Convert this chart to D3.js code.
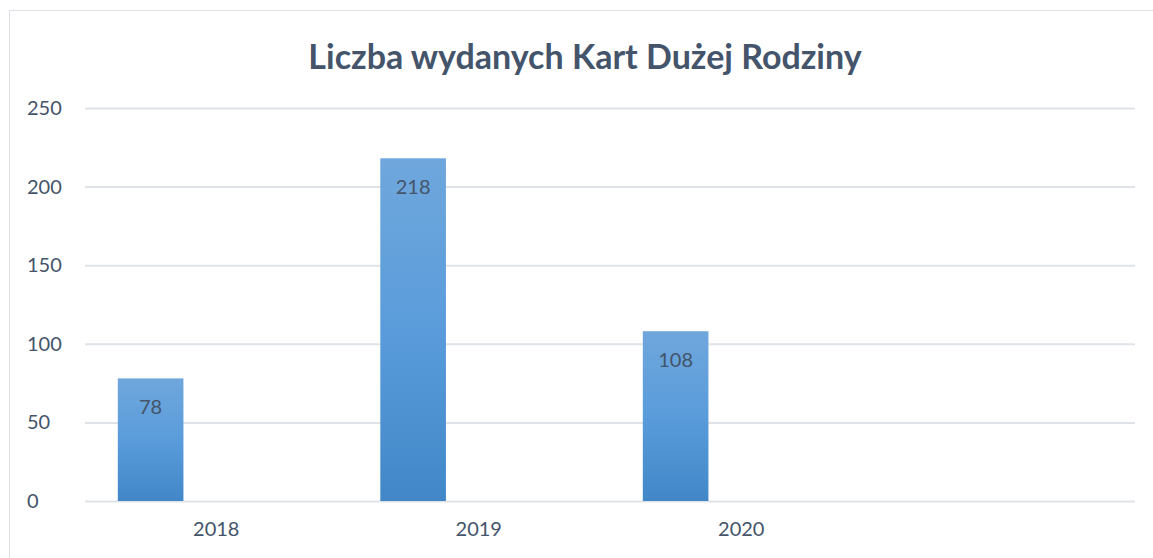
<!DOCTYPE html>
<html>
<head>
<meta charset="utf-8">
<script src="https://cdn.jsdelivr.net/npm/d3@7"></script>
<style>
  body { margin: 0; background: #fff; }
  text { font-family: Lato, "Open Sans", sans-serif; }
</style>
</head>
<body>
<div id="graphic"></div>
<script>
// Chart data
var categories = ['2018', '2019', '2020', ''];
var seriesNames = ['Karty', 'Seria 2', 'Seria 3'];
var cardValues = [78, 218, 108, null];
var emptyValues = [null, null, null, null];
var yTicks = [0, 50, 100, 150, 200, 250];
var chartTitle = 'Liczba wydanych Kart Dużej Rodziny';

var textColor = '#44546a';
var gridColor = '#dfe3e8';

var width = 1153,
    height = 558;

var margins = {
    top: 108,
    right: 18,
    bottom: 57,
    left: 85
};

var svg = d3.select('#graphic').append('svg')
    .attr('width', width)
    .attr('height', height);

// chart frame
svg.append('rect')
    .attr('x', 9.5)
    .attr('y', 10.5)
    .attr('width', width + 20)
    .attr('height', height + 20)
    .attr('fill', 'none')
    .attr('stroke', '#dde1e6')
    .attr('stroke-width', 1);

var defs = svg.append('defs');
var grad = defs.append('linearGradient')
    .attr('id', 'barGrad')
    .attr('x1', 0).attr('y1', 0)
    .attr('x2', 0).attr('y2', 1);
grad.append('stop').attr('offset', '0%').attr('stop-color', '#6fa7dc');
grad.append('stop').attr('offset', '50%').attr('stop-color', '#5a9cdb');
grad.append('stop').attr('offset', '100%').attr('stop-color', '#4187c7');

var x = d3.scaleBand()
    .domain(categories)
    .range([margins.left, width - margins.right])
    .paddingInner(0)
    .paddingOuter(0);

var xInner = d3.scaleBand()
    .domain(seriesNames)
    .range([0, x.bandwidth()])
    .paddingInner(0)
    .paddingOuter(0.5);

var y = d3.scaleLinear()
    .domain([0, 250])
    .range([height - margins.bottom, margins.top]);

// title
svg.append('text')
    .attr('x', 585)
    .attr('y', 69)
    .attr('text-anchor', 'middle')
    .attr('font-size', '34px')
    .attr('font-weight', 'bold')
    .attr('fill', textColor)
    .text(chartTitle);

// gridlines
var yAxis = d3.axisLeft(y)
    .tickValues(yTicks)
    .tickSize(-(width - margins.left - margins.right))
    .tickPadding(23);

var yAxisGroup = svg.append('g')
    .attr('transform', 'translate(' + margins.left + ',0)')
    .call(yAxis);

yAxisGroup.select('.domain').remove();
yAxisGroup.selectAll('line')
    .attr('stroke', gridColor)
    .attr('stroke-width', 2);
yAxisGroup.selectAll('text')
    .attr('font-size', '20px')
    .attr('fill', textColor)
    .attr('text-anchor', 'start')
    .attr('x', 27 - margins.left);

// x axis labels
var xAxis = d3.axisBottom(x)
    .tickSize(0)
    .tickPadding(21);

var xAxisGroup = svg.append('g')
    .attr('transform', 'translate(0,' + y(0) + ')')
    .call(xAxis);

xAxisGroup.select('.domain').remove();
xAxisGroup.selectAll('text')
    .attr('font-size', '20px')
    .attr('fill', textColor);

// bars
var barData = categories.map(function(c, i) {
    return [
        { cat: c, series: seriesNames[0], value: cardValues[i] },
        { cat: c, series: seriesNames[1], value: emptyValues[i] },
        { cat: c, series: seriesNames[2], value: emptyValues[i] }
    ];
}).flat().filter(function(d) { return d.value != null; });

var bars = svg.append('g').attr('class', 'bars');

bars.selectAll('rect')
    .data(barData)
    .enter().append('rect')
    .attr('x', function(d) { return x(d.cat) + xInner(d.series); })
    .attr('y', function(d) { return y(d.value); })
    .attr('width', xInner.bandwidth())
    .attr('height', function(d) { return y(0) - y(d.value); })
    .attr('fill', 'url(#barGrad)');

// value labels
bars.selectAll('text')
    .data(barData)
    .enter().append('text')
    .attr('x', function(d) { return x(d.cat) + xInner(d.series) + xInner.bandwidth() / 2; })
    .attr('y', function(d) { return y(d.value) + 36; })
    .attr('text-anchor', 'middle')
    .attr('font-size', '20px')
    .attr('fill', textColor)
    .text(function(d) { return d.value; });
</script>
</body>
</html>
